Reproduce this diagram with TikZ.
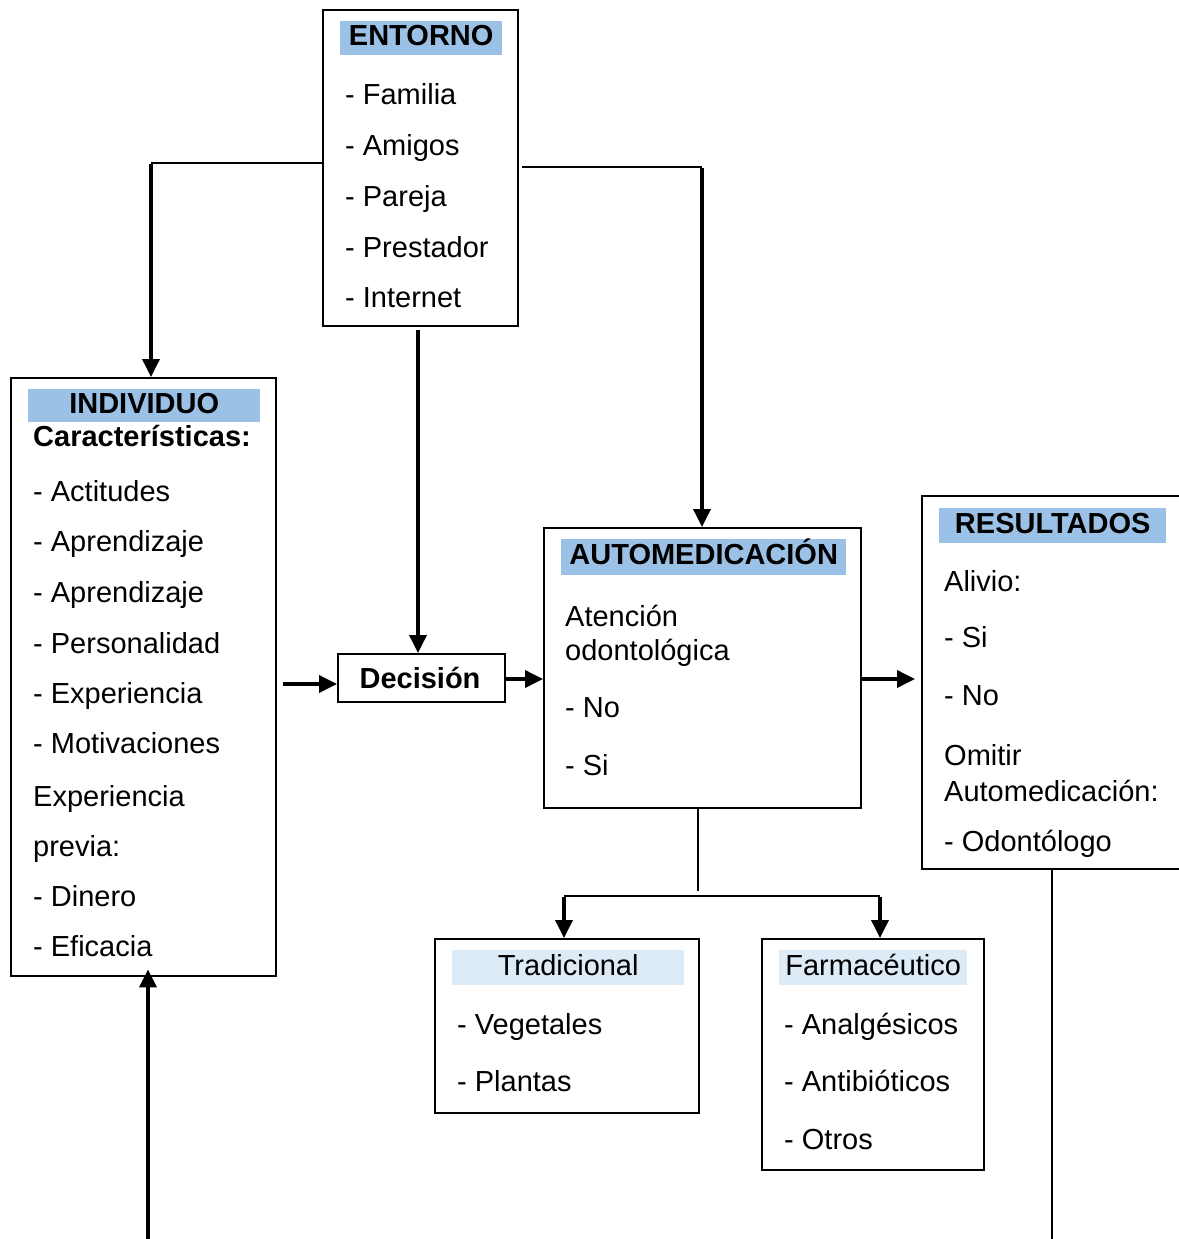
\documentclass[tikz,border=0pt]{standalone}
\usepackage{fontspec}
\setmainfont{Liberation Sans}
\usetikzlibrary{arrows.meta}
\definecolor{hdrblue}{RGB}{155,194,230}
\definecolor{hdrlight}{RGB}{221,235,247}
\tikzset{
  box/.style={draw, line width=2.4pt, rectangle, inner sep=0pt, anchor=north west},
  txt/.style={anchor=base west, inner sep=0pt, font=\fontsize{29}{34}\selectfont},
  hdr/.style={fill=hdrblue, anchor=north west, inner sep=0pt, text height=21pt, text depth=6pt, font=\fontsize{29}{34}\selectfont\bfseries},
  hdrl/.style={hdr, fill=hdrlight, font=\fontsize{29}{34}\selectfont},
  thinln/.style={line width=2pt},
  arr/.style={line width=3.6pt, -{Triangle[length=18pt,width=17pt]}},
}
\begin{document}
\begin{tikzpicture}[x=1pt,y=-1pt]
\useasboundingbox[fill=white] (0,0) rectangle (1178,1239);

% ENTORNO
\node[box, minimum width=195, minimum height=316] (entorno) at (322,9) {};
\node[hdr, minimum width=162, minimum height=34] (hentorno) at (340,21) {ENTORNO};
\node[txt] (e1) at (345,104) {- Familia};
\node[txt] (e2) at (345,155) {- Amigos};
\node[txt] (e3) at (345,206) {- Pareja};
\node[txt] (e4) at (345,257) {- Prestador};
\node[txt] (e5) at (345,307) {- Internet};

% INDIVIDUO
\node[box, minimum width=265, minimum height=598] (individuo) at (10,377) {};
\node[hdr, minimum width=232, minimum height=33] (hindividuo) at (28,389) {INDIVIDUO};
\node[txt, font=\fontsize{29}{34}\selectfont\bfseries] (i0) at (33,446) {Características:};
\node[txt] (i1) at (33,501) {- Actitudes};
\node[txt] (i2) at (33,551) {- Aprendizaje};
\node[txt] (i3) at (33,602) {- Aprendizaje};
\node[txt] (i4) at (33,653) {- Personalidad};
\node[txt] (i5) at (33,703) {- Experiencia};
\node[txt] (i6) at (33,753) {- Motivaciones};
\node[txt] (i7) at (33,806) {Experiencia};
\node[txt] (i8) at (33,856) {previa:};
\node[txt] (i9) at (33,906) {- Dinero};
\node[txt] (i10) at (33,956) {- Eficacia};

% DECISION
\node[box, minimum width=167, minimum height=48] (decision) at (337,653) {};
\node[font=\fontsize{29}{34}\selectfont\bfseries, inner sep=0pt] (tdecision) at (420,678) {Decisión};

% AUTOMEDICACION
\node[box, minimum width=317, minimum height=280] (auto) at (543,527) {};
\node[hdr, minimum width=285, minimum height=36] (hauto) at (561,539) {AUTOMEDICACIÓN};
\node[txt] (a1) at (565,626) {Atención};
\node[txt] (a2) at (565,660) {odontológica};
\node[txt] (a3) at (565,717) {- No};
\node[txt] (a4) at (565,775) {- Si};

% RESULTADOS
\node[box, minimum width=270, minimum height=373] (result) at (921,495) {};
\node[hdr, minimum width=227, minimum height=35] (hresult) at (939,508) {RESULTADOS};
\node[txt] (r1) at (944,591) {Alivio:};
\node[txt] (r2) at (944,647) {- Si};
\node[txt] (r3) at (944,705) {- No};
\node[txt] (r4) at (944,765) {Omitir};
\node[txt] (r5) at (944,801) {Automedicación:};
\node[txt] (r6) at (944,851) {- Odontólogo};

% TRADICIONAL
\node[box, minimum width=264, minimum height=174] (trad) at (434,938) {};
\node[hdrl, minimum width=232, minimum height=35] (htrad) at (452,950) {Tradicional};
\node[txt] (t1) at (457,1034) {- Vegetales};
\node[txt] (t2) at (457,1091) {- Plantas};

% FARMACEUTICO
\node[box, minimum width=222, minimum height=231] (farm) at (761,938) {};
\node[hdrl, minimum width=188, minimum height=35] (hfarm) at (779,950) {Farmacéutico};
\node[txt] (f1) at (784,1034) {- Analgésicos};
\node[txt] (f2) at (784,1091) {- Antibióticos};
\node[txt] (f3) at (784,1149) {- Otros};

% connector coordinates
\coordinate (c1) at (151,163);
\coordinate (c2a) at (522,167);
\coordinate (c2) at (702,167);
\coordinate (c3) at (418,330);
\coordinate (c4) at (283,684);
\coordinate (c5) at (698,891);
\coordinate (c6a) at (564,896);
\coordinate (c6b) at (880,896);
\coordinate (c7) at (148,1239);
\coordinate (c8) at (1052,1239);

% connectors
\draw[thinln] (entorno.west |- c1) -- (c1);
\draw[arr] ([yshift=-1pt]c1) -- (individuo.north -| c1);
\draw[thinln] (c2a) -- (c2);
\draw[arr] ([yshift=-1pt]c2) -- (auto.north -| c2);
\draw[arr] (c3) -- (decision.north -| c3);
\draw[arr] (c4) -- (decision.west |- c4);
\draw[arr] (decision.east |- 0,679) -- (auto.west |- 0,679);
\draw[arr] (auto.east |- 0,679) -- ([xshift=-6pt]result.west |- 0,679);
\draw[thinln] (auto.south -| c5) -- (c5);
\draw[thinln] (c6a) -- (c6b);
\draw[arr] ([yshift=-1pt]c6a) -- (trad.north -| c6a);
\draw[arr] ([yshift=-1pt]c6b) -- (farm.north -| c6b);
\draw[arr] (c7) -- ([yshift=8pt]individuo.south -| c7);
\draw[thinln] (result.south -| c8) -- (c8);
\end{tikzpicture}
\end{document}
